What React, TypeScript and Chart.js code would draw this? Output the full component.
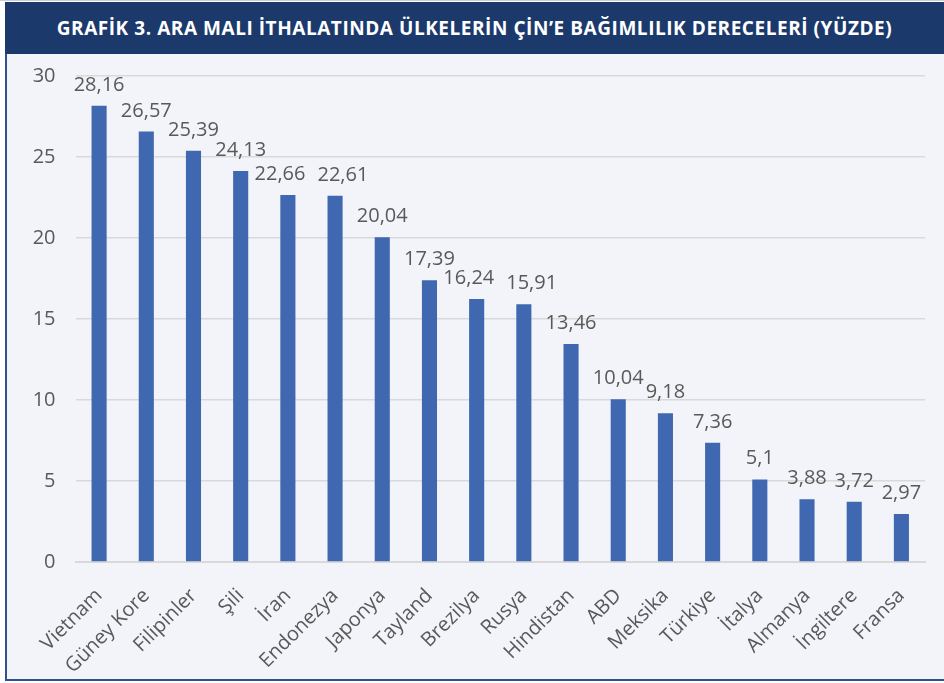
import React, { useEffect, useRef } from "react";
import { Chart, registerables } from "chart.js";

Chart.register(...registerables);

const titleText = "GRAFİK 3. ARA MALI İTHALATINDA ÜLKELERİN ÇİN’E BAĞIMLILIK DERECELERİ (YÜZDE)";
const countries = [
  "Vietnam", "Güney Kore", "Filipinler", "Şili", "İran", "Endonezya", "Japonya", "Tayland",
  "Brezilya", "Rusya", "Hindistan", "ABD", "Meksika", "Türkiye", "İtalya", "Almanya", "İngiltere", "Fransa",
];
const dependency = [
  28.16, 26.57, 25.39, 24.13, 22.66, 22.61, 20.04, 17.39, 16.24, 15.91, 13.46, 10.04, 9.18, 7.36, 5.1, 3.88, 3.72, 2.97,
];
const yMin = 0;
const yMax = 30;
const yStep = 5;

const FONT = "'Open Sans', 'Noto Sans', sans-serif";
const TEXT = "#595959";

// Draws value labels above bars; labels that crowd a neighbour are pushed apart.
const valueLabels = {
  id: "valueLabels",
  afterDatasetsDraw(chart: any) {
    const ctx = chart.ctx;
    const meta = chart.getDatasetMeta(0);
    ctx.save();
    ctx.font = `20px ${FONT}`;
    ctx.fillStyle = TEXT;
    ctx.textAlign = "center";
    ctx.textBaseline = "alphabetic";
    const items = meta.data.map((bar: any, i: number) => {
      const text = String(chart.data.datasets[0].data[i]).replace(".", ",");
      return { text, x: bar.x, y: bar.y - 15, w: ctx.measureText(text).width };
    });
    const minGap = 12;
    const trigger = 0;
    for (let i = 0; i < items.length - 1; i++) {
      const a = items[i];
      const b = items[i + 1];
      if (Math.abs(a.y - b.y) > 16) continue;
      const gap = b.x - b.w / 2 - (a.x + a.w / 2);
      if (gap < trigger) {
        const shift = (minGap - gap) / 2;
        a.x -= shift;
        b.x += shift;
      }
    }
    items.forEach((it: any) => ctx.fillText(it.text, it.x, it.y));
    ctx.restore();
  },
};

export default function App() {
  const ref = useRef<HTMLCanvasElement | null>(null);
  useEffect(() => {
    if (!ref.current) return;
    const chart = new Chart(ref.current, {
      type: "bar",
      data: {
        labels: countries,
        datasets: [
          {
            data: dependency,
            backgroundColor: "#4068b1",
            barPercentage: 0.64,
            categoryPercentage: 0.5,
          },
        ],
      },
      options: {
        animation: false,
        responsive: false,
        maintainAspectRatio: false,
        layout: { padding: { top: 76, right: 19, left: 0, bottom: 0 } },
        plugins: { legend: { display: false }, tooltip: { enabled: false }, title: { display: false } },
        scales: {
          x: {
            grid: { display: false },
            border: { display: true, color: "#d9d9d9", width: 2 },
            ticks: {
              maxRotation: 45,
              minRotation: 45,
              autoSkip: false,
              padding: 14,
              color: TEXT,
              font: { family: FONT, size: 20 },
            },
            afterFit: (scale: any) => {
              scale.height = 121;
            },
          },
          y: {
            min: yMin,
            max: yMax,
            grid: { color: "#d9d9d9", lineWidth: 1.5, drawTicks: false },
            border: { display: false },
            ticks: {
              stepSize: yStep,
              padding: 20,
              color: TEXT,
              font: { family: FONT, size: 20 },
            },
            afterFit: (scale: any) => {
              scale.width = 75.5;
            },
          },
        },
      },
      plugins: [valueLabels],
    });
    return () => chart.destroy();
  }, []);

  return (
    <div style={{ position: "absolute", left: 0, top: 0, width: 944, height: 683, background: "#ffffff", overflow: "hidden" }}>
      <div style={{ position: "absolute", left: 0, top: 0, width: 944, height: 1, background: "#c9ced8" }} />
      <div
        style={{
          position: "absolute",
          left: 5,
          top: 2,
          width: 939,
          height: 52,
          background: "#1b3a6b",
          color: "#ffffff",
          fontFamily: FONT,
          fontWeight: 700,
          fontSize: 19,
          display: "flex",
          alignItems: "center",
          justifyContent: "center",
          letterSpacing: 0.55,
          whiteSpace: "nowrap",
        }}
      >
        {titleText}
      </div>
      <div
        style={{
          position: "absolute",
          left: 5,
          top: 54,
          width: 939,
          height: 625,
          background: "#f3f4f9",
          borderLeft: "2px solid #2f5192",
          borderBottom: "2px solid #2f5192",
        }}
      />
      <canvas ref={ref} width={944} height={683} style={{ position: "absolute", left: 0, top: 0, width: 944, height: 683 }} />
    </div>
  );
}
